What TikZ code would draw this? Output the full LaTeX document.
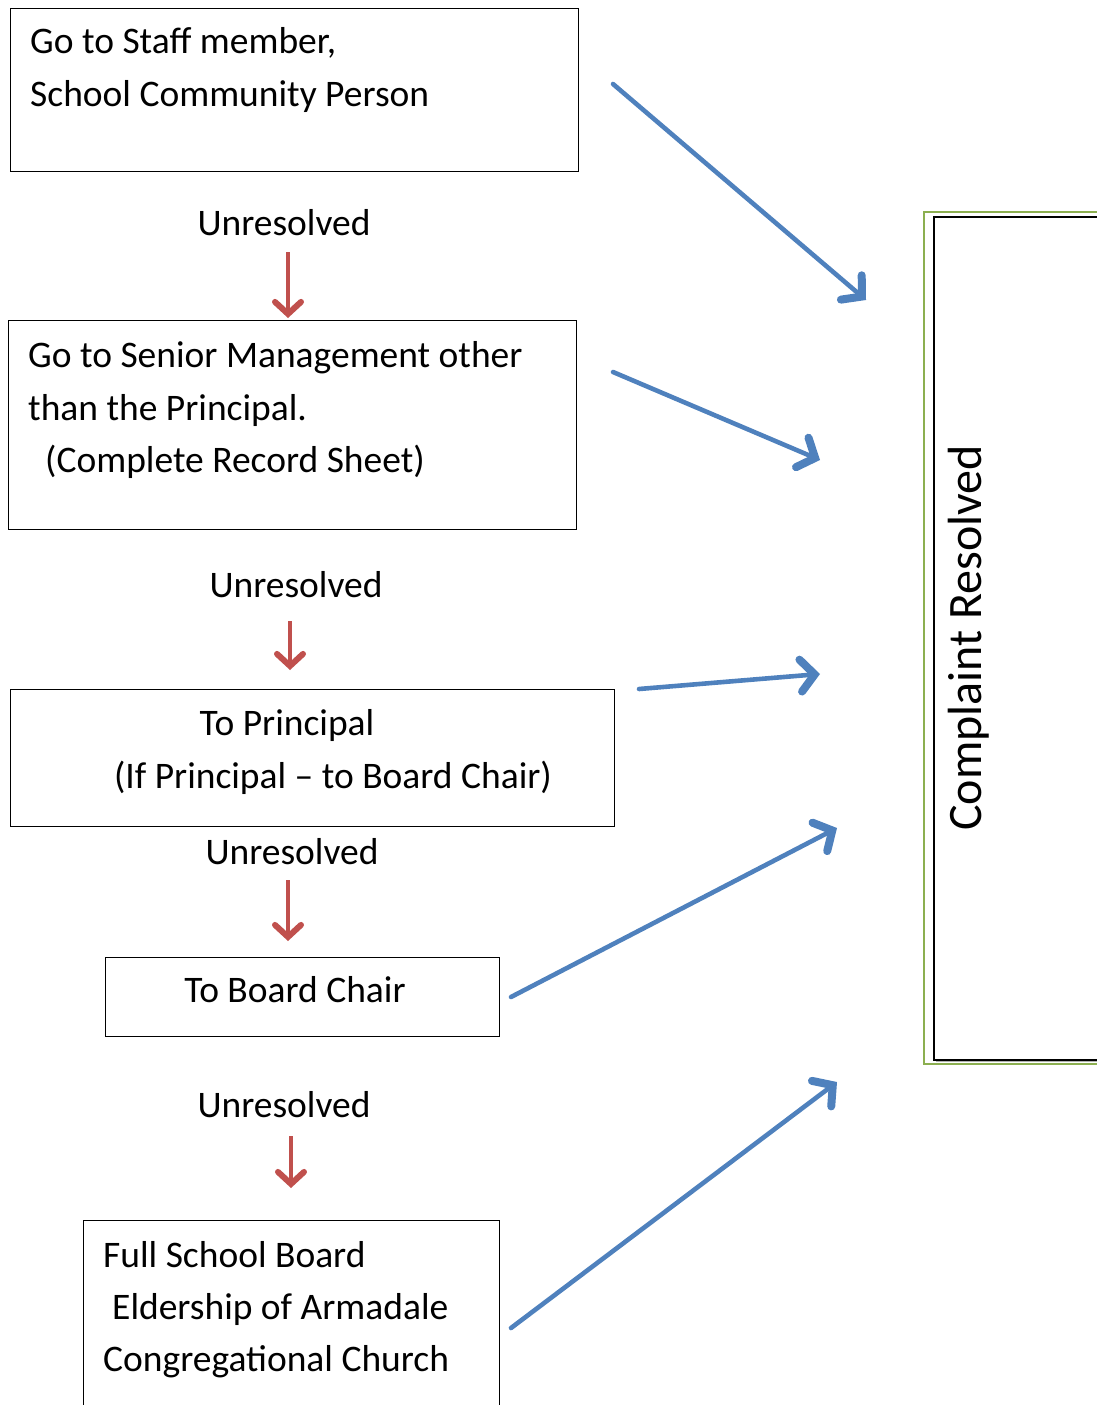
\documentclass[tikz,border=0pt]{standalone}
\usepackage{fontspec}
\setmainfont{Carlito}
\usetikzlibrary{arrows.meta}
\definecolor{blueA}{HTML}{4F81BD}
\definecolor{redA}{HTML}{C0504D}
\definecolor{greenA}{HTML}{8CAF50}
\tikzset{
  box/.style={draw=black, line width=1.2pt, anchor=north west, inner sep=0pt},
  txt/.style={anchor=base west, inner sep=0pt, font=\fontsize{37.5}{44}\selectfont},
  ctxt/.style={anchor=base, inner sep=0pt, font=\fontsize{37.5}{44}\selectfont},
  redarrow/.style={draw=redA, line width=3.6pt, -{Straight Barb[length=12pt,width=26pt,line width=6pt 0,line cap=round]}},
  bluearrow/.style={draw=blueA, line width=4.6pt, line cap=round, -{Straight Barb[length=14pt,width=32pt,line width=8pt 0,line cap=round]}},
}
\begin{document}
\begin{tikzpicture}[x=1pt,y=-1pt]
\useasboundingbox (0,0) rectangle (1097,1405);
\clip (0,0) rectangle (1097,1405);
% boxes
\node[box, minimum width=568pt, minimum height=163pt] (b1) at (10,8) {};
\node[box, minimum width=568pt, minimum height=209pt] (b2) at (8,320) {};
\node[box, minimum width=604pt, minimum height=137pt] (b3) at (10,689) {};
\node[box, minimum width=394pt, minimum height=79pt] (b4) at (105,957) {};
\node[box, minimum width=416pt, minimum height=220pt] (b5) at (83,1220) {};
% right box
\node[draw=greenA, line width=1.8pt, anchor=north west, inner sep=0pt, minimum width=200pt, minimum height=852pt] (rbo) at (923,211) {};
\draw[gray!60, line width=1.5pt] (936,1061) -- (1110,1061);
\node[draw=black, line width=1.6pt, anchor=north west, inner sep=0pt, minimum width=200pt, minimum height=843pt] (rbi) at (933,216) {};
\node[rotate=90, inner sep=0pt, font=\fontsize{48}{56}\selectfont] (res) at (969,638) {Complaint Resolved};
% texts
\node[txt] (t1a) at (30,54) {Go to Staff member,};
\node[txt] (t1b) at (30,106) {School Community Person};
\node[txt] (t2a) at (28,367) {Go to Senior Management other};
\node[txt] (t2b) at (28,420) {than the Principal.};
\node[txt] (t2c) at (45,472) {(Complete Record Sheet)};
\node[ctxt] (t3a) at (287,735) {To Principal};
\node[ctxt] (t3b) at (333,788) {(If Principal – to Board Chair)};
\node[ctxt] (t4) at (295,1002) {To Board Chair};
\node[txt] (t5a) at (103,1267) {Full School Board};
\node[txt] (t5b) at (112,1319) {Eldership of Armadale};
\node[txt] (t5c) at (103,1371) {Congregational Church};
% unresolved
\node[ctxt] (u1) at (284,235) {Unresolved};
\node[ctxt] (u2) at (296,597) {Unresolved};
\node[ctxt] (u3) at (292,864) {Unresolved};
\node[ctxt] (u4) at (284,1117) {Unresolved};
% arrow coordinates
\coordinate (r1s) at (288,252); \coordinate (r1e) at (288,318);
\coordinate (r2s) at (290,621); \coordinate (r2e) at (290,670);
\coordinate (r3s) at (288,880); \coordinate (r3e) at (288,941);
\coordinate (r4s) at (291,1136); \coordinate (r4e) at (291,1188);
\draw[redarrow] (r1s) -- (r1e);
\draw[redarrow] (r2s) -- (r2e);
\draw[redarrow] (r3s) -- (r3e);
\draw[redarrow] (r4s) -- (r4e);
\coordinate (a1s) at (613,84); \coordinate (a1e) at (866,300);
\coordinate (a2s) at (613,372); \coordinate (a2e) at (820,460);
\coordinate (a3s) at (639,689); \coordinate (a3e) at (820,674);
\coordinate (a4s) at (511,997); \coordinate (a4e) at (837,828);
\coordinate (a5s) at (511,1328); \coordinate (a5e) at (837,1082);
\draw[bluearrow] (a1s) -- (a1e);
\draw[bluearrow] (a2s) -- (a2e);
\draw[bluearrow] (a3s) -- (a3e);
\draw[bluearrow] (a4s) -- (a4e);
\draw[bluearrow] (a5s) -- (a5e);
\end{tikzpicture}
\end{document}
